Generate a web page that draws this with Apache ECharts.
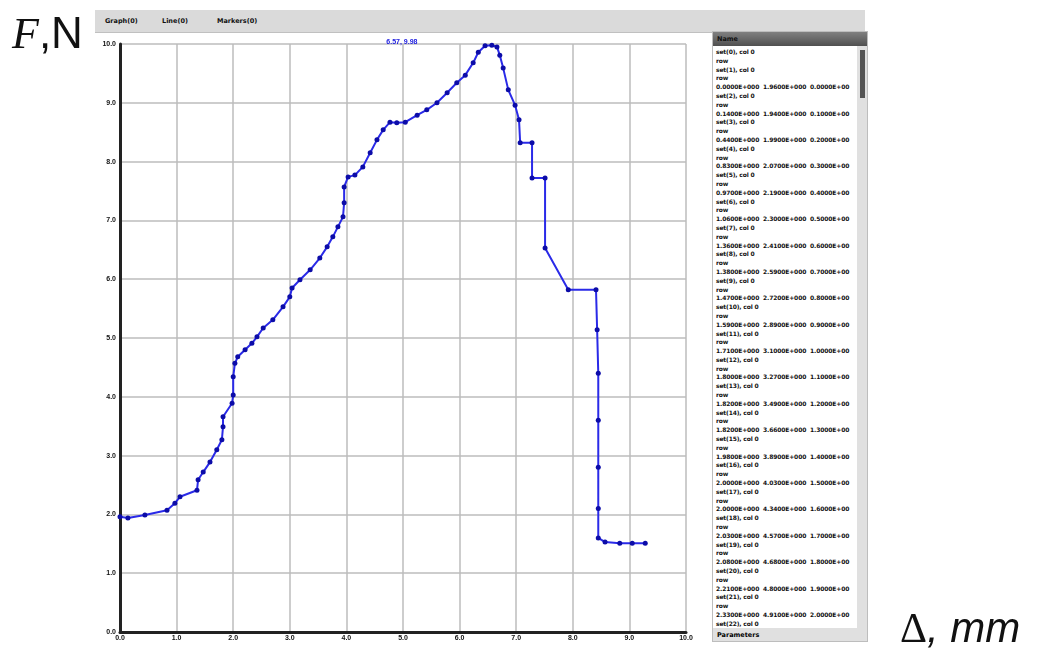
<!DOCTYPE html>
<html>
<head>
<meta charset="utf-8">
<script src="https://cdn.jsdelivr.net/npm/echarts@6/dist/echarts.min.js"></script>
<style>
    html, body { margin: 0; padding: 0; background: #fff; }
    #wrap { position: relative; width: 1041px; height: 660px; overflow: hidden; }
    #chart { position: absolute; left: 0; top: 0; width: 1041px; height: 660px; }
    .toolbar { position: absolute; left: 95px; top: 10px; width: 770px; height: 22px; background: #dadada; border-bottom: 1px solid #c0c0c0; font: bold 6.5px "DejaVu Sans"; color: #111; }
    .toolbar span { position: absolute; top: 7px; }
    .panel { position: absolute; left: 712px; top: 31px; width: 156px; height: 611px; background: #fff; border: 1px solid #bdbdbd; box-sizing: border-box; overflow: hidden; }
    .panel .head { height: 14px; background: linear-gradient(#808080, #505050); font: bold 6.5px "DejaVu Sans"; color: #111; padding: 3px 0 0 4px; box-sizing: border-box; }
    .panel .list { position: absolute; left: 3px; top: 16px; width: 140px; font: bold 6px/8.8px "DejaVu Sans"; color: #111; white-space: pre; letter-spacing: -0.15px; }
    .panel .scroll { position: absolute; right: 0; top: 14px; width: 10px; height: 583px; background: #e0e0e0; }
    .panel .thumb { position: absolute; right: 2px; top: 18px; width: 5px; height: 48px; background: #555; }
    .panel .foot { position: absolute; left: 0; bottom: 0; width: 100%; height: 13px; background: #e0e0e0; font: bold 6.5px "DejaVu Sans"; padding: 3px 0 0 4px; box-sizing: border-box; }
    .lblF { position: absolute; left: 12px; top: 8px; font-size: 44px; color: #111; }
    .lblF i { font-family: "Liberation Serif"; }
    .lblF span { font-family: "Liberation Sans"; }
    .lblD { position: absolute; left: 900px; top: 604px; font-size: 42px; color: #111; }
    .lblD span { font-family: "Liberation Serif"; }
    .lblD i { font-family: "Liberation Sans"; }
</style>
</head>
<body>
<div id="wrap">
    <div id="chart"></div>
    <div class="toolbar">
        <span style="left:10px">Graph(0)</span>
        <span style="left:67px">Line(0)</span>
        <span style="left:122px">Markers(0)</span>
    </div>
    <div class="panel">
        <div class="head">Name</div>
        <div class="list" id="list"></div>
        <div class="scroll"></div>
        <div class="thumb"></div>
        <div class="foot">Parameters</div>
    </div>
    <div class="lblF"><i>F</i><span>,N</span></div>
    <div class="lblD"><span>&#916;</span><i>, mm</i></div>
</div>
<script>
    // displacement (grid units)
    const dispData = [
        0.00, 0.14, 0.44, 0.83, 0.97, 1.06, 1.36, 1.38, 1.47, 1.59, 1.71, 1.80, 1.82, 1.82, 1.98, 2.00,
        2.00, 2.03, 2.08, 2.21, 2.33, 2.42, 2.53, 2.70, 2.88, 3.00, 3.04, 3.18, 3.36, 3.53, 3.66, 3.76,
        3.85, 3.94, 3.96, 3.96, 4.03, 4.15, 4.29, 4.42, 4.54, 4.65, 4.77, 4.89, 5.04, 5.25, 5.42, 5.60,
        5.78, 5.95, 6.10, 6.24, 6.33, 6.45, 6.57, 6.66, 6.71, 6.77, 6.86, 6.98, 7.05, 7.07, 7.28, 7.28,
        7.51, 7.51, 7.92, 8.41, 8.43, 8.45, 8.45, 8.45, 8.45, 8.45, 8.57, 8.83, 9.05, 9.28
    ];
    // force (grid units)
    const forceData = [
        1.96, 1.94, 1.99, 2.07, 2.19, 2.30, 2.41, 2.59, 2.72, 2.89, 3.10, 3.27, 3.49, 3.66, 3.89, 4.03,
        4.34, 4.57, 4.68, 4.80, 4.91, 5.02, 5.17, 5.31, 5.53, 5.70, 5.85, 5.99, 6.16, 6.36, 6.55, 6.72,
        6.89, 7.06, 7.30, 7.57, 7.74, 7.77, 7.91, 8.15, 8.37, 8.54, 8.67, 8.66, 8.67, 8.79, 8.88, 9.00,
        9.17, 9.34, 9.47, 9.68, 9.86, 9.97, 9.98, 9.95, 9.81, 9.59, 9.22, 8.96, 8.71, 8.32, 8.32, 7.72,
        7.72, 6.53, 5.82, 5.82, 5.14, 4.40, 3.60, 2.80, 2.10, 1.60, 1.53, 1.51, 1.51, 1.51
    ];
    const xTickLabels = ['0.0', '1.0', '2.0', '3.0', '4.0', '5.0', '6.0', '7.0', '8.0', '9.0', '10.0'];
    const yTickLabels = ['0.0', '1.0', '2.0', '3.0', '4.0', '5.0', '6.0', '7.0', '8.0', '9.0', '10.0'];
    const peakLabel = '6.57, 9.98';

    // 右侧列表
    let rows = '';
    dispData.slice(0, 22).forEach((d, i) => {
        rows += `set(${i + 1}), col 0\nrow\n${d.toFixed(4)}E+000  ${forceData[i].toFixed(4)}E+000  ${(i * 0.1).toFixed(4)}E+00\n`;
    });
    document.getElementById('list').textContent = 'set(0), col 0\nrow\n' + rows;

    const points = dispData.map((d, i) => [d, forceData[i]]);

    let option = {
        animation: false,
        grid: { left: 120, top: 44, width: 566, height: 588 },
        xAxis: {
            type: 'value', min: 0, max: 10, interval: 1,
            axisLine: { show: true, onZero: false, lineStyle: { color: '#222', width: 3 } },
            axisTick: { show: false },
            splitLine: { show: true, lineStyle: { color: '#bdbdbd', width: 1.5 } },
            axisLabel: {
                fontSize: 7, fontWeight: 'bold', color: '#111', margin: 3,
                formatter: v => xTickLabels[Math.round(v)]
            }
        },
        yAxis: {
            type: 'value', min: 0, max: 10, interval: 1,
            axisLine: { show: true, lineStyle: { color: '#222', width: 3 } },
            axisTick: { show: false },
            splitLine: { show: true, lineStyle: { color: '#bdbdbd', width: 1.5 } },
            axisLabel: {
                fontSize: 7, fontWeight: 'bold', color: '#111', margin: 4,
                formatter: v => yTickLabels[Math.round(v)]
            }
        },
        series: [{
            type: 'line',
            data: points,
            symbol: 'circle',
            symbolSize: 5,
            itemStyle: { color: '#0c0ca8' },
            lineStyle: { color: '#2a2ae8', width: 2 },
            markPoint: {
                symbol: 'rect', symbolSize: 0,
                data: [{ coord: [6.57, 9.98] }],
                label: { show: true, formatter: peakLabel, fontSize: 7, fontWeight: 'bold', color: '#2020e0', offset: [-90, -3] }
            }
        }]
    };

    const chart = echarts.init(document.getElementById('chart'));
    chart.setOption(option);
</script>
</body>
</html>
